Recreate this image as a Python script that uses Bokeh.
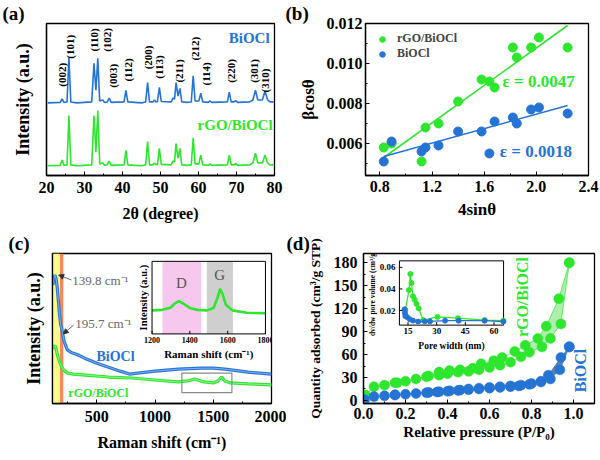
import numpy as np
from bokeh.plotting import figure
from bokeh.layouts import column, row
from bokeh.models import Range1d, Label, Arrow, NormalHead, FixedTicker, PrintfTickFormatter
from bokeh.core.properties import value
from bokeh.embed import file_html
from bokeh.resources import INLINE

FONT = "Liberation Serif"
GREEN = "#2de62d"
BLUE = "#2574d4"

# ---------------- (a) XRD ----------------
xrd_2theta = [20.3, 23.6, 24.1, 24.6, 25.4, 25.9, 26.4, 28.0, 31.9, 32.5, 33.0, 33.5, 34.0, 34.8, 35.3,
              36.0, 36.5, 37.0, 40.4, 40.9, 41.4, 45.0, 46.1, 46.6, 47.1, 48.0, 48.4, 48.8, 49.2, 49.7,
              50.2, 52.8, 53.3, 53.7, 54.1, 54.6, 55.1, 55.6, 57.0, 58.1, 58.6, 59.1, 60.1, 60.6, 61.1,
              62.6, 63.0, 63.5, 67.6, 68.1, 68.6, 69.4, 69.8, 70.3, 73.5, 74.3, 75.0, 75.6, 76.8, 77.5,
              78.2, 78.8, 79.8]
xrd_bioci = [75, 75.5, 79, 75.5, 76, 122, 76, 75, 76, 116, 88, 121, 77, 78, 75.5,
             76, 80, 75.5, 76, 88, 76, 75, 76, 96, 76, 76, 78, 76, 76.5, 91,
             76.5, 76, 80, 79, 96, 82, 90, 76, 75.5, 76, 103, 77, 77, 85, 76,
             75.5, 77, 75.5, 76, 86, 76, 76, 77.5, 75.5, 76, 78, 88, 78, 78, 87,
             78, 76, 76]
xrd_rgo = [10, 10.5, 16, 10.5, 11, 62, 11, 10, 11, 62, 24, 67, 12, 13, 10.5,
           11, 15, 10.5, 11, 26, 11, 10, 11, 35, 11, 11, 13, 11, 11.5, 28,
           11.5, 11, 15, 14, 33, 18, 28, 11, 10.5, 11, 39, 12, 12, 21, 11,
           10.5, 12, 10.5, 11, 21, 11, 11, 12.5, 10.5, 11, 13, 23, 13, 13, 21,
           13, 11, 11]
hkl_labels = ["(002)", "(101)", "(110)", "(102)", "(003)", "(112)", "(200)", "(113)",
              "(211)", "(212)", "(114)", "(220)", "(301)", "(310)"]
hkl_x = [24.0, 26.3, 32.6, 36.0, 37.6, 41.5, 46.8, 49.7, 54.9, 59.1, 62.0, 68.6, 74.5, 77.6]
hkl_y = [104, 133, 140, 140, 103, 109, 122, 112, 108, 131, 105, 108, 108, 98]

# ---------------- (b) W-H plot ----------------
wh_x = [0.83, 0.89, 1.12, 1.15, 1.25, 1.40, 1.58, 1.64, 1.68, 1.82, 1.85, 1.96, 2.02, 2.24]
wh_rgo = [0.0058, 0.0060, 0.0051, 0.0068, 0.0070, 0.0081, 0.0092, 0.0091, 0.0088, 0.0108,
          0.0103, 0.0108, 0.0113, 0.0108]
wh_bi = [0.0051, 0.0061, 0.0056, 0.0058, 0.0059, 0.0066, 0.0066, 0.0055, 0.0071, 0.0073,
         0.0070, 0.0077, 0.0078, 0.0075]
fit_x = [0.83, 2.24]
fit_rgo = [0.0053, 0.0119]
fit_bi = [0.00535, 0.0079]

# ---------------- (c) Raman ----------------
raman_bi_x = [122, 132, 140, 150, 160, 170, 180, 190, 196, 205, 220, 245, 280, 330, 400, 500, 600,
              700, 780, 850, 1000, 1200, 1400, 1500, 1600, 1800, 2000]
raman_bi_y = [121, 128, 131, 127, 118, 104, 90, 80, 78, 72, 63, 55, 52, 50, 46, 41, 37,
              33, 30, 31, 33, 35, 36, 36, 35, 32, 30]
raman_rgo_x = [122, 132, 140, 150, 160, 170, 180, 195, 215, 250, 300, 400, 600, 800, 1000, 1200,
               1280, 1340, 1420, 1500, 1540, 1570, 1600, 1650, 1800, 2000]
raman_rgo_y = [56, 58, 59, 56, 50, 46, 42, 38, 34, 31, 30, 29, 27, 26, 24, 22,
               23, 25, 22, 21, 23, 27, 23, 21, 20, 19]
inset_raman_x = [1200, 1255, 1300, 1320, 1342, 1365, 1400, 1440, 1490, 1525, 1545, 1560, 1572,
                 1590, 1625, 1700, 1800]
inset_raman_y = [24, 24.5, 27, 31, 33.5, 31, 26.5, 24.5, 24, 26.5, 36, 46, 41, 30, 24, 21.5, 21]
band_D = [1255, 1460]
band_G = [1490, 1628]
band_yellow = [124, 180]
band_orange = [183, 212]
zoom_box = [1230, 1660, 11, 31]
inset_raman_ticks = [1200, 1400, 1600, 1800]

# ---------------- (d) BET ----------------
ads_rgo_x = [0.01, 0.05, 0.10, 0.15, 0.20, 0.25, 0.30, 0.36, 0.40, 0.45, 0.50, 0.55, 0.60, 0.65,
             0.70, 0.75, 0.79, 0.85, 0.89, 0.94, 0.98]
ads_rgo_y = [7, 18, 20, 23, 25, 28, 31, 33, 35, 37, 38, 40, 43, 46, 50, 57, 63, 70, 81, 100, 180]
des_rgo_x = [0.98, 0.93, 0.87, 0.83, 0.77, 0.72, 0.66, 0.62, 0.56, 0.52, 0.46, 0.41, 0.36, 0.31,
             0.16]
des_rgo_y = [180, 133, 97, 81, 72, 64, 56, 52, 48, 42, 40, 39, 37, 32, 23]
ads_bi_x = [0.005, 0.05, 0.10, 0.15, 0.20, 0.25, 0.30, 0.35, 0.40, 0.45, 0.50, 0.55, 0.60, 0.65,
            0.70, 0.74, 0.79, 0.845, 0.89, 0.935, 0.98]
ads_bi_y = [1, 5, 6, 7, 8, 9, 10, 11, 12, 13, 14, 15, 16, 17, 18, 19, 21, 24, 28, 40, 70]
des_bi_x = [0.98, 0.94, 0.88, 0.845, 0.80, 0.75, 0.70, 0.65, 0.60, 0.55, 0.50, 0.46, 0.41, 0.36,
            0.31, 0.15]
des_bi_y = [70, 56, 33, 25, 22, 20, 19, 18, 17, 16, 15, 13.5, 12.5, 11.5, 10.5, 7.5]
pore_rgo_x = [13.6, 15.5, 16.2, 16.8, 17.6, 18.5, 19.4, 20.6, 22.9, 30.4, 41.1, 55.1, 64.9]
pore_rgo_y = [0.0206, 0.039, 0.0538, 0.0455, 0.0333, 0.030, 0.0262, 0.022, 0.0112, 0.0141,
              0.0129, 0.0112, 0.0106]
pore_bi_x = [13.2, 13.4, 13.6, 14.5, 15.9, 17.6, 20.3, 23.8, 26.5, 34.4, 41.5, 55.1, 64.9]
pore_bi_y = [0.0211, 0.0177, 0.0149, 0.014, 0.012, 0.0107, 0.0098, 0.010, 0.010, 0.0106,
             0.0106, 0.0106, 0.0098]
pore_xticks = [15, 30, 45, 60]
pore_yticks = [0.02, 0.04, 0.06]


def style(p, tick_size="16px", label_size="16px"):
    p.outline_line_color = "black"
    p.outline_line_width = 1.3
    p.grid.visible = False
    p.background_fill_color = "white"
    p.border_fill_color = "white"
    for ax in p.axis:
        ax.axis_line_width = 1.3
        ax.major_tick_in = 4
        ax.major_tick_out = 0
        ax.minor_tick_in = 2
        ax.minor_tick_out = 0
        ax.major_label_text_font = FONT
        ax.major_label_text_font_style = "bold"
        ax.major_label_text_font_size = tick_size
        ax.major_label_text_color = "black"
        ax.axis_label_text_font = FONT
        ax.axis_label_text_font_style = "bold"
        ax.axis_label_text_font_size = label_size
        ax.axis_label_text_color = "black"


def panel_title(p, txt, offset):
    p.title.text = txt
    p.title.align = "left"
    p.title.offset = offset
    p.title.standoff = 0
    p.title.text_font = FONT
    p.title.text_font_style = "bold"
    p.title.text_font_size = "19px"
    p.title.text_color = "black"


# ======== (a) ========
pa = figure(width=285, height=230, x_range=Range1d(20, 80), y_range=Range1d(0, 157),
            output_backend="svg", toolbar_location=None,
            min_border_left=46, min_border_right=11, min_border_top=18, min_border_bottom=55)
style(pa)
panel_title(pa, "(a)", -44)
pa.line(xrd_2theta, xrd_bioci, line_color=BLUE, line_width=1.6)
pa.line(xrd_2theta, xrd_rgo, line_color=GREEN, line_width=1.6)
pa.text(x=hkl_x, y=hkl_y, text=hkl_labels, angle=np.pi / 2, text_align="center",
        text_baseline="middle", text_font=value(FONT), text_font_style="bold",
        text_font_size="11px", text_color="black")
pa.add_layout(Label(x=78.7, y=142, text="BiOCl", text_font=FONT, text_font_style="bold",
                    text_font_size="15px", text_color=BLUE, text_align="right", text_baseline="middle"))
pa.add_layout(Label(x=79.5, y=52, text="rGO/BiOCl", text_font=FONT, text_font_style="bold",
                    text_font_size="15px", text_color=GREEN, text_align="right", text_baseline="middle"))
pa.xaxis.ticker = FixedTicker(ticks=[20, 30, 40, 50, 60, 70, 80], minor_ticks=[25, 35, 45, 55, 65, 75])
pa.xaxis.formatter = PrintfTickFormatter(format="%d")
pa.xaxis.axis_label = "2θ (degree)"
pa.xaxis.major_label_standoff = 6
pa.xaxis.axis_label_standoff = 9
pa.yaxis.ticker = FixedTicker(ticks=[])
pa.yaxis.axis_label = "Intensity (a.u.)"
pa.yaxis.axis_label_text_font_size = "18px"
pa.yaxis.axis_label_standoff = 14

# ======== (b) ========
pb = figure(width=315, height=230, x_range=Range1d(0.69, 2.4), y_range=Range1d(0.0044, 0.012),
            output_backend="svg", toolbar_location=None,
            min_border_left=80, min_border_right=12, min_border_top=20, min_border_bottom=50)
style(pb, label_size="17px")
panel_title(pb, "(b)", -80)
pb.line(fit_x, fit_rgo, line_color=GREEN, line_width=1.6)
pb.line(fit_x, fit_bi, line_color=BLUE, line_width=1.6)
pb.scatter(wh_x, wh_rgo, size=9, fill_color=GREEN, line_color=GREEN, legend_label="rGO/BiOCl")
pb.scatter(wh_x, wh_bi, size=9, fill_color=BLUE, line_color=BLUE, legend_label="BiOCl")
pb.legend.location = "top_left"
pb.legend.margin = 4
pb.legend.padding = 4
pb.legend.spacing = 0
pb.legend.glyph_width = 18
pb.legend.glyph_height = 14
pb.legend.label_standoff = 6
pb.legend.label_text_font = FONT
pb.legend.label_text_font_style = "bold"
pb.legend.label_text_font_size = "12px"
pb.legend.background_fill_alpha = 0
pb.legend.border_line_alpha = 0
pb.add_layout(Label(x=1.74, y=0.0091, text="ε = 0.0047", text_font=FONT, text_font_style="bold",
                    text_font_size="17px", text_color=GREEN, text_baseline="middle"))
pb.add_layout(Label(x=1.72, y=0.00562, text="ε = 0.0018", text_font=FONT, text_font_style="bold",
                    text_font_size="17px", text_color=BLUE, text_baseline="middle"))
pb.xaxis.ticker = FixedTicker(ticks=[0.8, 1.2, 1.6, 2.0, 2.4], minor_ticks=[1.0, 1.4, 1.8, 2.2])
pb.xaxis.formatter = PrintfTickFormatter(format="%.1f")
pb.yaxis.ticker = FixedTicker(ticks=[0.006, 0.008, 0.010, 0.012],
                              minor_ticks=[0.005, 0.007, 0.009, 0.011])
pb.yaxis.formatter = PrintfTickFormatter(format="%.3f")
pb.xaxis.axis_label = "4sinθ"
pb.yaxis.axis_label = "βcosθ"
pb.xaxis.major_label_standoff = 5
pb.xaxis.axis_label_standoff = 5
pb.yaxis.major_label_standoff = 3
pb.yaxis.axis_label_standoff = 6

# ======== (c) ========
pc = figure(width=286, height=230, x_range=Range1d(119, 2000), y_range=Range1d(0, 153),
            output_backend="svg", toolbar_location=None,
            min_border_left=52, min_border_right=15, min_border_top=20, min_border_bottom=57)
style(pc)
panel_title(pc, "(c)", -44)
pc.quad(left=[band_yellow[0]], right=[band_yellow[1]], bottom=[0], top=[153],
        fill_color="#fdf98a", line_color=None)
pc.quad(left=[band_orange[0]], right=[band_orange[1]], bottom=[0], top=[153],
        fill_color="#f48a5c", line_color=None)
pc.line(raman_bi_x, raman_bi_y, line_color=BLUE, line_width=3.2)
pc.line(raman_bi_x, raman_bi_y, line_color="#7fb0ee", line_width=1)
pc.line(raman_rgo_x, raman_rgo_y, line_color=GREEN, line_width=3.2)
pc.line(raman_rgo_x, raman_rgo_y, line_color="#8ff08f", line_width=1)
pc.quad(left=[zoom_box[0]], right=[zoom_box[1]], bottom=[zoom_box[2]], top=[zoom_box[3]],
        fill_color=None, line_color="#8a8a8a", line_width=1.2)
pc.add_layout(Label(x=288, y=125, text="139.8 cm⁻¹", text_font=FONT, text_font_size="13px",
                    text_color="#666666", text_baseline="middle"))
pc.add_layout(Label(x=314, y=82, text="195.7 cm⁻¹", text_font=FONT, text_font_size="13px",
                    text_color="#666666", text_baseline="middle"))
pc.add_layout(Arrow(end=NormalHead(size=5, fill_color="#333333", line_color="#333333"),
                    x_start=282, y_start=126, x_end=172, y_end=131, line_color="#666666", line_width=1))
pc.add_layout(Arrow(end=NormalHead(size=5, fill_color="#333333", line_color="#333333"),
                    x_start=300, y_start=80, x_end=212, y_end=71, line_color="#666666", line_width=1))
pc.add_layout(Label(x=660, y=48, text="BiOCl", text_font=FONT, text_font_style="bold",
                    text_font_size="14px", text_color=BLUE, text_align="center", text_baseline="middle"))
pc.add_layout(Label(x=513, y=11, text="rGO/BiOCl", text_font=FONT, text_font_style="bold",
                    text_font_size="12px", text_color=GREEN, text_align="center", text_baseline="middle"))
pc.xaxis.ticker = FixedTicker(ticks=[500, 1000, 1500, 2000], minor_ticks=[250, 750, 1250, 1750])
pc.xaxis.axis_label = "Raman shift (cm⁻¹)"
pc.xaxis.major_label_standoff = 7
pc.xaxis.axis_label_standoff = 9
pc.yaxis.ticker = FixedTicker(ticks=[])
pc.yaxis.axis_label = "Intensity (a.u.)"
pc.yaxis.axis_label_text_font_size = "18px"
pc.yaxis.axis_label_standoff = 9

# inset of (c)
ic_xs = Range1d(1200, 1800)
ic_ys = Range1d(0, 74)
ic = pc.subplot(x_source=ic_xs, y_source=ic_ys, x_target=Range1d(974, 1948), y_target=Range1d(71, 145))
ic.quad(left=[ic_xs.start], right=[ic_xs.end], bottom=[ic_ys.start], top=[ic_ys.end],
        fill_color="white", line_color=None)
ic.quad(left=[band_D[0]], right=[band_D[1]], bottom=[ic_ys.start], top=[ic_ys.end],
        fill_color="#f7c8ee", line_color=None)
ic.quad(left=[band_G[0]], right=[band_G[1]], bottom=[ic_ys.start], top=[ic_ys.end],
        fill_color="#cfcfcf", line_color=None)
ic.line(inset_raman_x, inset_raman_y, line_color=GREEN, line_width=2.6)
ic.quad(left=[ic_xs.start], right=[ic_xs.end], bottom=[ic_ys.start], top=[ic_ys.end],
        fill_color=None, line_color="black", line_width=1)
ic.ray(x=inset_raman_ticks, y=[ic_ys.start] * 4, length=3, length_units="screen",
       angle=np.pi / 2, line_color="black")
ic.text(x=inset_raman_ticks, y=[ic_ys.start] * 4, text=[str(t) for t in inset_raman_ticks],
        text_align="center", text_baseline="top", y_offset=3, text_font=value(FONT),
        text_font_style="bold", text_font_size="8px", text_color="black")
ic.text(x=[1500], y=[ic_ys.start], text=["Raman shift (cm⁻¹)"], text_align="center",
        text_baseline="top", y_offset=14, text_font=value(FONT), text_font_style="bold",
        text_font_size="11px", text_color="black")
ic.text(x=[ic_xs.start], y=[37], text=["Intensity (a.u.)"], angle=np.pi / 2, text_align="center",
        text_baseline="bottom", x_offset=-3, text_font=value(FONT), text_font_style="bold",
        text_font_size="10.5px", text_color="black")
ic.text(x=[1355, 1558], y=[52, 60], text=["D", "G"], text_align="center", text_baseline="middle",
        text_font=value(FONT), text_font_size="15px", text_color="#555555")

# ======== (d) ========
pd_ = figure(width=314, height=230, x_range=Range1d(0, 1.1), y_range=Range1d(-4, 192),
             output_backend="svg", toolbar_location=None,
             min_border_left=77, min_border_right=6, min_border_top=17, min_border_bottom=50)
style(pd_, label_size="15px")
panel_title(pd_, "(d)", -77)
adx = np.array(ads_rgo_x); ady = np.array(ads_rgo_y)
dsx = np.array(des_rgo_x); dsy = np.array(des_rgo_y)
m1 = adx >= 0.74; m2 = dsx >= 0.74
pd_.patch(np.concatenate([adx[m1], dsx[m2]]), np.concatenate([ady[m1], dsy[m2]]),
          fill_color="#6fe06f", fill_alpha=0.55, line_color=None)
bax = np.array(ads_bi_x); bay = np.array(ads_bi_y)
bdx = np.array(des_bi_x); bdy = np.array(des_bi_y)
n1 = bax >= 0.84; n2 = bdx >= 0.84
pd_.patch(np.concatenate([bax[n1], bdx[n2]]), np.concatenate([bay[n1], bdy[n2]]),
          fill_color="#3d5f95", fill_alpha=0.8, line_color=None)
for xs, ys, c in [(ads_rgo_x, ads_rgo_y, GREEN), (des_rgo_x, des_rgo_y, GREEN),
                  (ads_bi_x, ads_bi_y, BLUE), (des_bi_x, des_bi_y, BLUE)]:
    pd_.line(xs, ys, line_color=c, line_width=1, line_alpha=0.7)
    pd_.scatter(xs, ys, size=10, fill_color=c, line_color=c, line_width=0.5)
pd_.add_layout(Label(x=0.759, y=135, text="rGO/BiOCl", angle=np.pi / 2, text_font=FONT,
                     text_font_style="bold", text_font_size="16px", text_color=GREEN,
                     text_align="center", text_baseline="middle"))
pd_.add_layout(Label(x=1.035, y=39, text="BiOCl", angle=np.pi / 2, text_font=FONT,
                     text_font_style="bold", text_font_size="16px", text_color=BLUE,
                     text_align="center", text_baseline="middle"))
pd_.xaxis.ticker = FixedTicker(ticks=[0.0, 0.2, 0.4, 0.6, 0.8, 1.0], minor_ticks=[0.1, 0.3, 0.5, 0.7, 0.9])
pd_.xaxis.formatter = PrintfTickFormatter(format="%.1f")
pd_.yaxis.ticker = FixedTicker(ticks=[0, 30, 60, 90, 120, 150, 180],
                               minor_ticks=[15, 45, 75, 105, 135, 165])
pd_.xaxis.axis_label = "Relative pressure (P/P₀)"
pd_.yaxis.axis_label = "Quantity adsorbed (cm³/g STP)"
pd_.yaxis.axis_label_text_font_size = "13.5px"
pd_.xaxis.major_label_standoff = 4
pd_.xaxis.axis_label_standoff = 2
pd_.yaxis.major_label_standoff = 6
pd_.yaxis.axis_label_standoff = 8

# inset of (d)
id_xs = Range1d(10.5, 65)
id_ys = Range1d(0.0065, 0.066)
idn = pd_.subplot(x_source=id_xs, y_source=id_ys, x_target=Range1d(0.171, 0.667),
                  y_target=Range1d(98.4, 182.4))
idn.quad(left=[id_xs.start], right=[id_xs.end], bottom=[id_ys.start], top=[id_ys.end],
         fill_color="white", line_color="black", line_width=1)
idn.line(pore_rgo_x, pore_rgo_y, line_color=GREEN, line_width=1.2)
idn.scatter(pore_rgo_x, pore_rgo_y, size=5, fill_color=GREEN, line_color=GREEN)
idn.line(pore_bi_x, pore_bi_y, line_color=BLUE, line_width=1.2)
idn.scatter(pore_bi_x, pore_bi_y, size=5, fill_color=BLUE, line_color=BLUE)
idn.ray(x=pore_xticks, y=[id_ys.start] * 4, length=3, length_units="screen", angle=np.pi / 2,
        line_color="black")
idn.ray(x=[id_xs.start] * 3, y=pore_yticks, length=3, length_units="screen", angle=0,
        line_color="black")
idn.text(x=pore_xticks, y=[id_ys.start] * 4, text=[str(t) for t in pore_xticks], text_align="center",
         text_baseline="top", y_offset=3, text_font=value(FONT), text_font_style="bold",
         text_font_size="9px", text_color="black")
idn.text(x=[id_xs.start] * 3, y=pore_yticks, text=["%.2f" % t for t in pore_yticks],
         text_align="right", text_baseline="middle", x_offset=-4, text_font=value(FONT),
         text_font_style="bold", text_font_size="9px", text_color="black")
idn.text(x=[37.75], y=[id_ys.start], text=["Pore width (nm)"], text_align="center",
         text_baseline="top", y_offset=16, text_font=value(FONT), text_font_style="bold",
         text_font_size="9.5px", text_color="black")
idn.text(x=[id_xs.start], y=[0.036], text=["dv/dw pore volume (cm³/g)"], angle=np.pi / 2,
         text_align="center", text_baseline="bottom", x_offset=-22, text_font=value(FONT),
         text_font_style="bold", text_font_size="7.5px", text_color="black")

layout = column(row(pa, pb), row(pc, pd_))
open("out.html", "w").write(file_html(layout, INLINE))
